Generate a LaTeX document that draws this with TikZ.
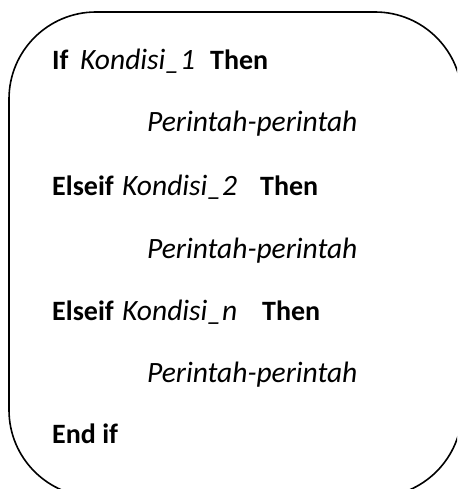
\documentclass[tikz,border=0pt]{standalone}
\usepackage{fontspec}
\setmainfont{Carlito}
\begin{document}
\begin{tikzpicture}[x=1pt,y=-1pt,
  txt/.style={inner sep=0pt,anchor=base west,font=\fontsize{29.5}{34}\selectfont},
  kw/.style={txt,font=\fontsize{28}{34}\selectfont\bfseries},
  it/.style={txt,font=\fontsize{29.5}{34}\selectfont\itshape},
  frame/.style={draw=black,line width=1.6pt,rounded corners=87pt}]
\useasboundingbox (0,0) rectangle (457,489);
\begin{scope}
\clip (0,0) rectangle (457,489);
\draw[frame] (9,12) rectangle (462,497);
\end{scope}
\node[kw] (if1) at (52,70) {If};
\node[it] (k1) at (80,70) {Kondisi\_1};
\node[kw] (t1) at (210,70) {Then};
\node[it] (p1) at (147,132) {Perintah-perintah};
\node[kw] (e2) at (52,195) {Elseif};
\node[it] (k2) at (122,195) {Kondisi\_2};
\node[kw] (t2) at (260,195) {Then};
\node[it] (p2) at (147,258) {Perintah-perintah};
\node[kw] (e3) at (52,320) {Elseif};
\node[it] (k3) at (122,320) {Kondisi\_n};
\node[kw] (t3) at (262,320) {Then};
\node[it] (p3) at (147,382) {Perintah-perintah};
\node[kw] (end) at (52,443) {End if};
\end{tikzpicture}
\end{document}
